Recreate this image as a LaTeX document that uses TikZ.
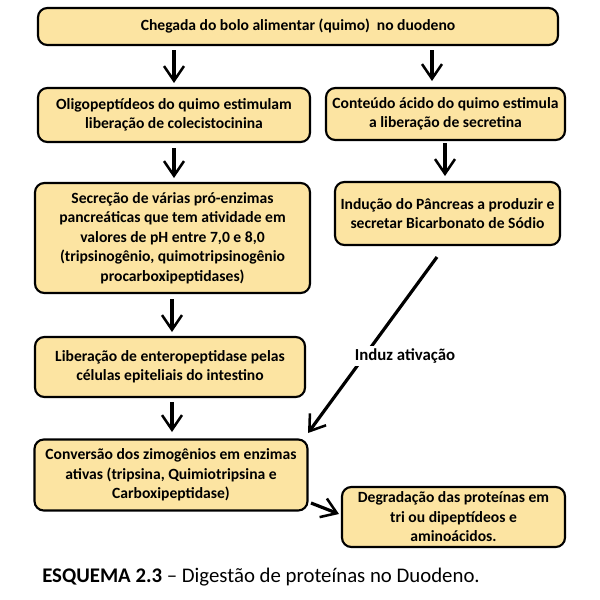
\documentclass[tikz,border=0pt]{standalone}
\usepackage{fontspec}
\setmainfont{Carlito}
\usetikzlibrary{arrows.meta}
\definecolor{boxfill}{RGB}{252,228,162}
\tikzset{
  box/.style={draw=black, line width=1.6pt, fill=boxfill, rounded corners=7pt,
    align=center, font=\bfseries\fontsize{11.7pt}{14.6pt}\selectfont, inner sep=0pt},
  arr/.style={line width=2.4pt, -{Straight Barb[length=11pt,width=15pt,line width=1.9pt]}},
}
\begin{document}
\begin{tikzpicture}[x=0.75pt,y=-0.75pt]
\useasboundingbox (0,0) rectangle (600,600);
\node[box, minimum width=520*0.75pt, minimum height=37*0.75pt] (top) at (298,26.5) {Chegada do bolo alimentar (quimo)\ \ no duodeno};
\node[box, minimum width=272*0.75pt, minimum height=54*0.75pt] (oligo) at (174,115) {Oligopeptídeos do quimo estimulam\\liberação de colecistocinina};
\node[box, minimum width=239*0.75pt, minimum height=52*0.75pt] (cont) at (445.5,114) {Conteúdo ácido do quimo estimula\\a liberação de secretina};
\node[box, minimum width=275*0.75pt, minimum height=110*0.75pt] (secr) at (172.5,238) {Secreção de várias pró-enzimas\\pancreáticas que tem atividade em\\valores de pH entre 7,0 e 8,0\\(tripsinogênio, quimotripsinogênio\\procarboxipeptidases)};
\node[box, minimum width=225*0.75pt, minimum height=63*0.75pt] (indu) at (447.5,213.5) {Indução do Pâncreas a produzir e\\secretar Bicarbonato de Sódio};
\node[box, minimum width=270*0.75pt, minimum height=60*0.75pt] (lib) at (170,367) {Liberação de enteropeptidase pelas\\células epiteliais do intestino};
\node[box, minimum width=273*0.75pt, minimum height=71*0.75pt] (conv) at (171,475) {Conversão dos zimogênios em enzimas\\ativas (tripsina, Quimiotripsina e\\Carboxipeptidase)};
\node[box, minimum width=223*0.75pt, minimum height=60*0.75pt] (degr) at (453.5,517) {Degradação das proteínas em\\tri ou dipeptídeos e\\aminoácidos.};
\node[anchor=west, inner sep=0pt, font=\fontsize{15.6pt}{18pt}\selectfont] (cap) at (42,577) {\textbf{ESQUEMA 2.3} – Digestão de proteínas no Duodeno.};
% arrows
\coordinate (a1s) at (174,50); \coordinate (a1e) at (174,83);
\draw[arr] (a1s) -- (a1e);
\coordinate (a2s) at (432,50); \coordinate (a2e) at (432,81);
\draw[arr] (a2s) -- (a2e);
\coordinate (a3s) at (174,148); \coordinate (a3e) at (174,178);
\draw[arr] (a3s) -- (a3e);
\coordinate (a4s) at (445,143); \coordinate (a4e) at (445,176);
\draw[arr] (a4s) -- (a4e);
\coordinate (a5s) at (172,299); \coordinate (a5e) at (172,332);
\draw[arr] (a5s) -- (a5e);
\coordinate (a6s) at (172,402); \coordinate (a6e) at (172,432);
\draw[arr] (a6s) -- (a6e);
\coordinate (ds) at (437,257); \coordinate (de) at (308,433);
\draw[arr] (ds) -- (de);
\node[fill=white, inner sep=2pt, font=\bfseries\fontsize{12.6pt}{14pt}\selectfont] (lbl) at (405,356) {Induz ativação};
\coordinate (a7s) at (311,503); \coordinate (a7e) at (339,514);
\draw[arr] (a7s) -- (a7e);
\end{tikzpicture}
\end{document}
